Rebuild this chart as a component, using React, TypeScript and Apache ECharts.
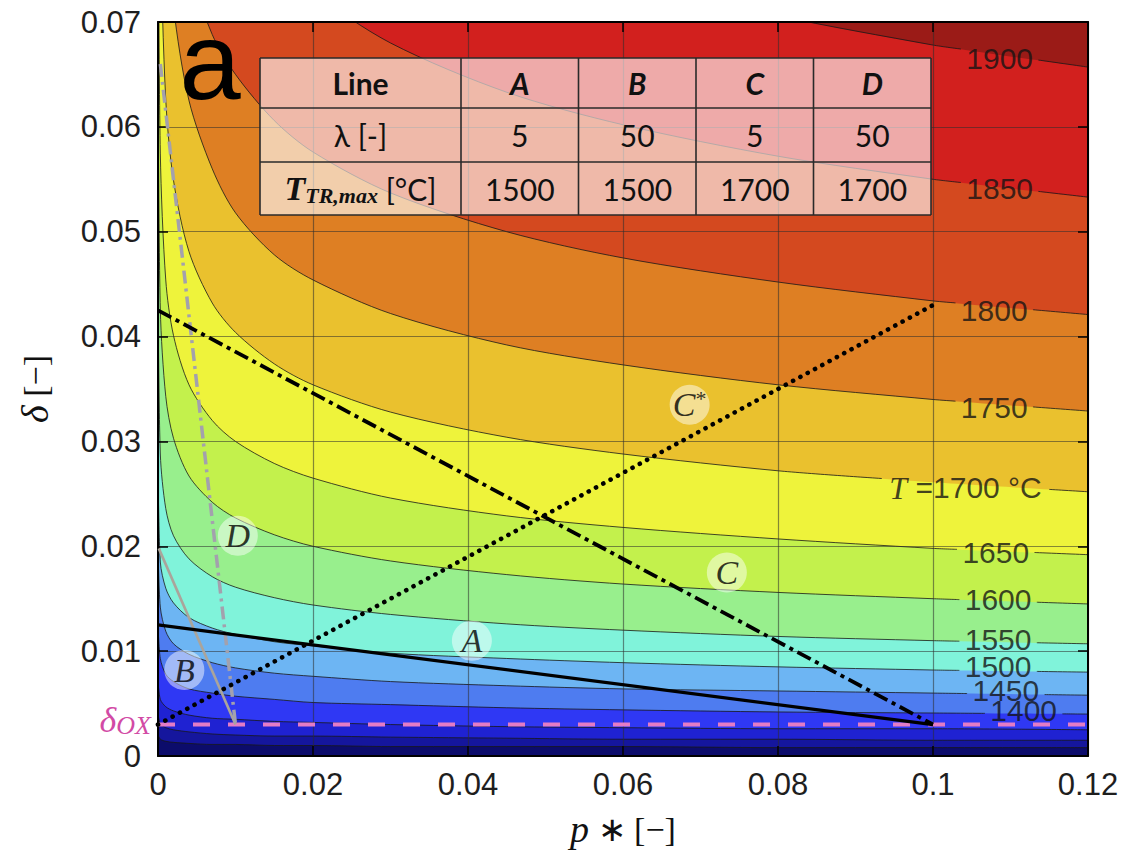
import React, { useEffect, useRef } from 'react';
import * as echarts from 'echarts';

// ---------- data ----------
// p* sample positions at which the iso-temperature contours were read
const P_GRID = [0, 0.0003, 0.001, 0.002, 0.004, 0.007, 0.01, 0.015, 0.02, 0.03, 0.045, 0.06, 0.08, 0.1, 0.12];

// delta of each iso-temperature contour at P_GRID (values >0.07 lie above the plot)
const D_1900 = [0.09, 0.09, 0.09, 0.09, 0.09, 0.09, 0.09, 0.09, 0.0899, 0.0838, 0.078, 0.0742, 0.0706, 0.0678, 0.0657];
const D_1850 = [0.09, 0.09, 0.09, 0.09, 0.09, 0.09, 0.0823, 0.0767, 0.0729, 0.068, 0.0633, 0.0602, 0.0572, 0.055, 0.0533];
const D_1800 = [0.09, 0.09, 0.09, 0.0862, 0.0755, 0.0688, 0.065, 0.0606, 0.0576, 0.0537, 0.05, 0.0475, 0.0452, 0.0434, 0.0421];
const D_1750 = [0.09, 0.09, 0.082, 0.0715, 0.0625, 0.056, 0.0518, 0.0478, 0.0454, 0.0422, 0.0392, 0.0373, 0.0354, 0.034, 0.0329];
const D_1700 = [0.09, 0.0786, 0.0626, 0.0549, 0.0481, 0.0432, 0.0404, 0.0374, 0.0354, 0.0328, 0.0304, 0.0288, 0.0272, 0.0261, 0.0252];
const D_1650 = [0.085, 0.0575, 0.0454, 0.0401, 0.0354, 0.032, 0.03, 0.0279, 0.0265, 0.0246, 0.0229, 0.0218, 0.0207, 0.0198, 0.0192];
const D_1600 = [0.065, 0.0426, 0.0343, 0.0303, 0.0267, 0.0242, 0.0227, 0.0211, 0.02, 0.0186, 0.0173, 0.0164, 0.0156, 0.015, 0.0145];
const D_1550 = [0.045, 0.0288, 0.0236, 0.021, 0.0188, 0.0171, 0.0161, 0.0151, 0.0144, 0.0135, 0.0126, 0.012, 0.0114, 0.011, 0.0107];
const D_1500 = [0.028, 0.0185, 0.016, 0.0146, 0.0132, 0.0122, 0.0116, 0.0109, 0.0105, 0.0098, 0.0093, 0.0089, 0.0085, 0.0082, 0.008];
const D_1450 = [0.02, 0.0142, 0.0119, 0.0107, 0.0097, 0.0089, 0.0084, 0.0079, 0.0076, 0.0071, 0.0067, 0.0064, 0.0062, 0.006, 0.0058];
const D_1400 = [0.0125, 0.0093, 0.0078, 0.0071, 0.0064, 0.006, 0.0057, 0.0054, 0.0051, 0.0049, 0.0046, 0.0044, 0.0042, 0.0041, 0.004];
const D_1350 = [0.0072, 0.0054, 0.0047, 0.0043, 0.0039, 0.0036, 0.0035, 0.0033, 0.0032, 0.003, 0.0028, 0.0027, 0.0026, 0.0026, 0.0025];
const D_1300 = [0.004, 0.0031, 0.0027, 0.0025, 0.0023, 0.0021, 0.002, 0.0019, 0.0019, 0.0018, 0.0017, 0.0016, 0.0016, 0.0015, 0.0015];
const D_1250 = [0.002, 0.0016, 0.0014, 0.0013, 0.0012, 0.0011, 0.0011, 0.001, 0.001, 0.0009, 0.0009, 0.0009, 0.0008, 0.0008, 0.0008];

const LEVELS = [1900, 1850, 1800, 1750, 1700, 1650, 1600, 1550, 1500, 1450, 1400, 1350, 1300, 1250];
const CONTOUR_DELTAS = [D_1900, D_1850, D_1800, D_1750, D_1700, D_1650, D_1600, D_1550, D_1500, D_1450, D_1400, D_1350, D_1300, D_1250];

// colour of the band just below each level, and of the band above the highest level
const BAND_COLORS = ['#d2201e', '#d4491f', '#de7f23', '#eac12e', '#eef33b', '#c3f14c', '#98ef8d', '#80f3da', '#6db5f3', '#4e7cf0', '#2f38f4', '#1f22d2', '#15169d', '#0c0c6b'];
const TOP_BAND_COLOR = '#9b1b17';

// contour labels (level, position on the contour)
const CONTOUR_LABELS = [
  { level: 1900, p: 0.1086, d: 0.0665, half: 0.005 },
  { level: 1850, p: 0.1086, d: 0.0541, half: 0.005 },
  { level: 1800, p: 0.1079, d: 0.0425, half: 0.005 },
  { level: 1750, p: 0.1079, d: 0.0332, half: 0.005 },
  { level: 1700, p: 0.1042, d: 0.0256, half: 0.0108 },
  { level: 1650, p: 0.1081, d: 0.0194, half: 0.005 },
  { level: 1600, p: 0.1084, d: 0.0149, half: 0.005 },
  { level: 1550, p: 0.1084, d: 0.0111, half: 0.005 },
  { level: 1500, p: 0.1084, d: 0.0085, half: 0.005 },
  { level: 1450, p: 0.1094, d: 0.0062, half: 0.005 },
  { level: 1400, p: 0.1117, d: 0.0043, half: 0.005 },
];

// operating lines
const DELTA_OX = 0.003;
const LINE_A = [[0, 0.0125], [0.1, 0.003]];
const LINE_B = [[0.0001, 0.0198], [0.01, 0.003]];
const LINE_C = [[0, 0.0425], [0.1, 0.003]];
const LINE_CSTAR = [[0, 0.003], [0.1, 0.043]];
const LINE_D = [[0.0003, 0.066], [0.005, 0.0355], [0.01, 0.003]];

const LETTER_MARKS = [
  { text: 'A', p: 0.0405, d: 0.011 },
  { text: 'B', p: 0.0034, d: 0.0082 },
  { text: 'C', p: 0.0734, d: 0.0175 },
  { text: 'C*', p: 0.0686, d: 0.0335 },
  { text: 'D', p: 0.0103, d: 0.021 },
];

const X_TICKS = { min: 0, max: 0.12, interval: 0.02 };
const Y_TICKS = { min: 0, max: 0.07, interval: 0.01 };

// table
const TABLE_HEAD = ['Line', 'A', 'B', 'C', 'D'];
const TABLE_LAMBDA = ['5', '50', '5', '50'];
const TABLE_TMAX = ['1500', '1500', '1700', '1700'];

// ---------- helpers ----------
const SANS = '"Liberation Sans", Arial, sans-serif';
const SERIF = '"Liberation Serif", "Times New Roman", serif';
const TABLE_FONT = 'Lato, "Open Sans", sans-serif';
const SMOOTH = 0.3;

function strokeData(levelIdx: number) {
  const ds = CONTOUR_DELTAS[levelIdx];
  const pts = P_GRID.map((p, j) => [p, ds[j]]);
  const lab = CONTOUR_LABELS.find((l) => l.level === LEVELS[levelIdx]);
  if (!lab) return pts;
  const g0 = lab.p - lab.half;
  const g1 = lab.p + lab.half;
  const out: any[] = [];
  for (let j = 0; j < pts.length; j++) {
    const [p, d] = pts[j];
    if (j > 0) {
      const [pp, dp] = pts[j - 1];
      if (pp < g0 && p > g0) {
        const t = (g0 - pp) / (p - pp);
        out.push([g0, dp + t * (d - dp)]);
        out.push([(g0 + g1) / 2, '-']);
      }
      if (pp < g1 && p > g1) {
        const t = (g1 - pp) / (p - pp);
        out.push([g1, dp + t * (d - dp)]);
      }
    }
    if (p <= g0 || p >= g1) out.push([p, d]);
  }
  return out;
}

const fmt = (v: number) => (v === 0 ? '0' : String(+v.toFixed(2)));

function buildOption(): any {
  const fills = LEVELS.map((lv, i) => ({
    type: 'line',
    name: 'fill' + lv,
    data: P_GRID.map((p, j) => [p, CONTOUR_DELTAS[i][j]]),
    smooth: SMOOTH,
    symbol: 'none',
    silent: true,
    z: 1,
    lineStyle: { width: 0, opacity: 0 },
    areaStyle: { color: BAND_COLORS[i], opacity: 1, origin: 'start' },
  }));

  const strokes = LEVELS.map((lv, i) => ({
    type: 'line',
    name: 'contour' + lv,
    data: strokeData(i),
    smooth: SMOOTH,
    symbol: 'none',
    silent: true,
    connectNulls: false,
    z: 2,
    lineStyle: { color: 'rgba(25,25,25,0.8)', width: 1 },
  }));

  const ln = (name: string, data: number[][], style: any) => ({
    type: 'line',
    name,
    data,
    symbol: 'none',
    silent: true,
    z: 4,
    lineStyle: style,
  });

  const overlays = [
    ln('deltaOX', [[X_TICKS.min, DELTA_OX], [X_TICKS.max, DELTA_OX]], { color: '#e47cc6', width: 4, type: [17, 18] }),
    ln('B', LINE_B, { color: '#aaa49b', width: 2.6 }),
    ln('D', LINE_D, { color: '#a3a1ad', width: 3.5, type: [13, 5, 3, 5] }),
    ln('A', LINE_A, { color: '#000', width: 3.2 }),
    ln('C', LINE_C, { color: '#000', width: 3.8, type: [15, 5, 4, 5] }),
    ln('Cstar', LINE_CSTAR, { color: '#000', width: 4.6, type: [0.1, 8.2], cap: 'round' }),
  ];

  const letters = {
    type: 'scatter',
    name: 'letters',
    z: 5,
    silent: true,
    symbol: 'circle',
    symbolSize: 40,
    itemStyle: { color: 'rgba(255,255,255,0.6)' },
    data: LETTER_MARKS.map((m) => ({ value: [m.p, m.d], name: m.text })),
    label: {
      show: true,
      position: 'inside',
      formatter: (prm: any) => (prm.name === 'C*' ? '{l|C}{s|*}' : '{l|' + prm.name + '}'),
      rich: {
        l: { fontFamily: SERIF, fontStyle: 'italic', fontSize: 34, color: '#000' },
        s: { fontFamily: SERIF, fontSize: 22, color: '#000', verticalAlign: 'top', padding: [0, 0, 12, 0] },
      },
    },
  };

  const contourLabels = {
    type: 'scatter',
    name: 'clabels',
    z: 5,
    silent: true,
    symbolSize: 1,
    itemStyle: { color: 'rgba(0,0,0,0)' },
    data: CONTOUR_LABELS.map((c) => ({ value: [c.p, c.d], name: String(c.level) })),
    label: {
      show: true,
      position: 'inside',
      fontFamily: SANS,
      fontSize: 30,
      color: '#141414',
      formatter: (prm: any) => (prm.name === '1700' ? '{t|T} =1700 °C' : prm.name),
      rich: { t: { fontFamily: SERIF, fontStyle: 'italic', fontSize: 32, color: '#141414' } },
    },
  };

  const axisLine = { show: true, onZero: false, lineStyle: { color: '#000', width: 2 } };
  const axisTick = { show: true, inside: true, length: 10, lineStyle: { color: '#000', width: 1.5 } };
  const splitLine = { show: true, lineStyle: { color: 'rgba(45,45,45,0.55)', width: 1.2 } };
  const axisLabel = { fontFamily: SANS, fontSize: 31, color: '#1e1e1e', formatter: fmt, showMinLabel: true, showMaxLabel: true };

  // table graphics
  const TX = [260, 461, 578.5, 696, 813.5, 931];
  const TY = [58, 108, 162, 215];
  const cx = (c: number) => (TX[c] + TX[c + 1]) / 2;
  const cy = (r: number) => (TY[r] + TY[r + 1]) / 2;
  const txt = (x: number, y: number, text: string, font: string, extra: any = {}) => ({
    type: 'text',
    z: 20,
    silent: true,
    style: {
      x, y, text, font, fill: '#111',
      align: 'center', verticalAlign: 'middle', textAlign: 'center', textVerticalAlign: 'middle',
      ...extra,
    },
  });
  const tableEls: any[] = [
    { type: 'rect', z: 19, silent: true, shape: { x: TX[0], y: TY[0], width: TX[5] - TX[0], height: TY[3] - TY[0] }, style: { fill: 'rgba(255,255,255,0.62)' } },
  ];
  TY.forEach((y) => tableEls.push({ type: 'line', z: 20, silent: true, shape: { x1: TX[0], y1: y, x2: TX[5], y2: y }, style: { stroke: '#2a2a2a', lineWidth: 1.6 } }));
  TX.forEach((x) => tableEls.push({ type: 'line', z: 20, silent: true, shape: { x1: x, y1: TY[0], x2: x, y2: TY[3] }, style: { stroke: '#2a2a2a', lineWidth: 1.6 } }));
  TABLE_HEAD.forEach((h, c) => {
    tableEls.push(txt(cx(c), cy(0), h, c === 0 ? `bold 30px ${TABLE_FONT}` : `italic bold 30px ${TABLE_FONT}`));
  });
  tableEls.push(txt(cx(0), cy(1), 'λ [-]', `30px ${TABLE_FONT}`));
  TABLE_LAMBDA.forEach((v, c) => tableEls.push(txt(cx(c + 1), cy(1), v, `30px ${TABLE_FONT}`)));
  tableEls.push({
    type: 'text',
    z: 20,
    silent: true,
    style: {
      x: cx(0), y: cy(2),
      text: '{t|T}{s|TR,max}{n| [°C]}',
      align: 'center', verticalAlign: 'middle', textAlign: 'center', textVerticalAlign: 'middle',
      rich: {
        t: { fontFamily: SERIF, fontStyle: 'italic', fontWeight: 'bold', fontSize: 34, fill: '#111', color: '#111', lineHeight: 36 },
        s: { fontFamily: SERIF, fontStyle: 'italic', fontWeight: 'bold', fontSize: 22, fill: '#111', color: '#111', verticalAlign: 'bottom', lineHeight: 22, padding: [10, 0, 0, 0] },
        n: { fontFamily: TABLE_FONT, fontSize: 30, fill: '#111', color: '#111', lineHeight: 36 },
      },
    },
  });
  TABLE_TMAX.forEach((v, c) => tableEls.push(txt(cx(c + 1), cy(2), v, `30px ${TABLE_FONT}`)));

  const graphic = [
    {
      type: 'text', z: 20, silent: true,
      style: { x: 210, y: 60, text: 'a', font: `110px ${SANS}`, fill: '#000', align: 'center', verticalAlign: 'middle', textAlign: 'center', textVerticalAlign: 'middle' },
    },
    {
      type: 'text', z: 20, silent: true,
      style: {
        x: 151, y: 720, text: '{d|δ}{s|OX}',
        align: 'right', verticalAlign: 'middle', textAlign: 'right', textVerticalAlign: 'middle',
        rich: {
          d: { fontFamily: SERIF, fontStyle: 'italic', fontSize: 36, fill: '#d24aa5', color: '#d24aa5', lineHeight: 36 },
          s: { fontFamily: SERIF, fontStyle: 'italic', fontSize: 26, fill: '#d24aa5', color: '#d24aa5', verticalAlign: 'bottom', lineHeight: 26, padding: [12, 0, 0, 0] },
        },
      },
    },
    ...tableEls,
  ];

  return {
    animation: false,
    backgroundColor: '#ffffff',
    grid: { left: 158, top: 22, width: 930, height: 735, show: true, backgroundColor: TOP_BAND_COLOR, borderWidth: 0, containLabel: false },
    xAxis: [
      {
        type: 'value', ...X_TICKS, position: 'bottom', z: 3,
        axisLine, axisTick, splitLine,
        axisLabel: { ...axisLabel, margin: 13 },
        name: '{i|p} ∗ [−]',
        nameLocation: 'middle',
        nameGap: 54,
        nameTextStyle: { fontFamily: SERIF, fontSize: 34, color: '#111', rich: { i: { fontFamily: SERIF, fontStyle: 'italic', fontSize: 38, color: '#111' } } },
      },
      { type: 'value', ...X_TICKS, position: 'top', z: 3, axisLine, axisTick, splitLine: { show: false }, axisLabel: { show: false } },
    ],
    yAxis: [
      {
        type: 'value', ...Y_TICKS, position: 'left', z: 3,
        axisLine, axisTick, splitLine,
        axisLabel: { ...axisLabel, margin: 17 },
        name: '{i|δ} [−]',
        nameLocation: 'middle',
        nameRotate: 90,
        nameGap: 104,
        nameTextStyle: { fontFamily: SERIF, fontSize: 34, color: '#111', rich: { i: { fontFamily: SERIF, fontStyle: 'italic', fontSize: 38, color: '#111' } } },
      },
      { type: 'value', ...Y_TICKS, position: 'right', z: 3, axisLine, axisTick, splitLine: { show: false }, axisLabel: { show: false } },
    ],
    series: [...fills, ...strokes, ...overlays, letters, contourLabels],
    graphic,
  };
}

export default function App() {
  const ref = useRef<HTMLDivElement>(null);
  useEffect(() => {
    document.body.style.margin = '0';
    if (!ref.current) return;
    const chart = echarts.init(ref.current, undefined, { renderer: 'svg' });
    chart.setOption(buildOption());
    return () => chart.dispose();
  }, []);
  return <div ref={ref} style={{ width: 1128, height: 853 }} />;
}
